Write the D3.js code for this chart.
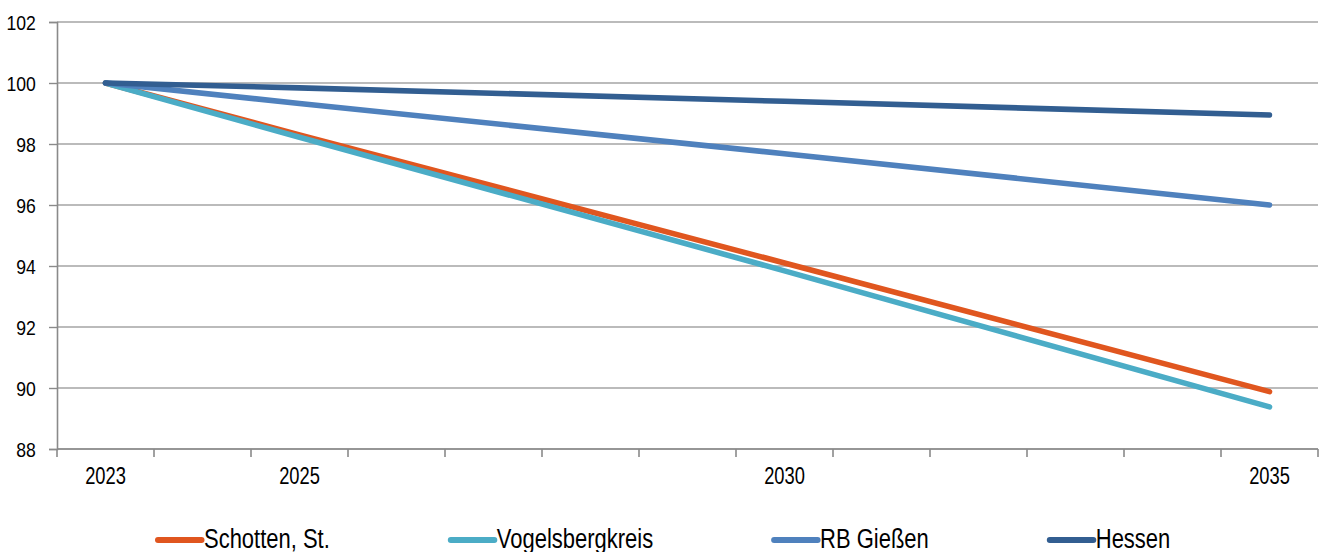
<!DOCTYPE html>
<html><head><meta charset="utf-8">
<script src="https://cdn.jsdelivr.net/npm/d3@7"></script>
<style>
body{margin:0;background:#fff}
svg{display:block;font-family:"Liberation Sans",Arial,sans-serif}
</style>
</head><body>
<svg id="c" width="1331" height="552"></svg>
<script>
// ---- data ----
const years = [2023,2024,2025,2026,2027,2028,2029,2030,2031,2032,2033,2034,2035];
const labeledYears = [2023,2025,2030,2035];
const seriesNames = ["Schotten, St.","Vogelsbergkreis","RB Gießen","Hessen"];
const schotten    = [100,null,98.30,null,null,null,null,94.10,null,null,null,null,89.88];
const vogelsberg  = [100,null,98.22,null,null,null,null,93.84,null,null,null,null,89.38];
const rbGiessen   = [100,null,99.33,null,null,null,null,97.68,null,null,null,null,96.00];
const hessen      = [100,null,99.84,null,null,null,null,99.40,null,null,null,null,98.95];
const yTicks = [88,90,92,94,96,98,100,102];

// ---- styles ----
const seriesValues = [schotten, vogelsberg, rbGiessen, hessen];
const colors = ["#E0561F","#4BACC6","#4F81BD","#325E91"];

const svg = d3.select("#c");
const mLeft = 57, mRight = 1318, mTop = 22, mBottom = 449;

const x = d3.scaleBand().domain(years).range([mLeft, mRight]).padding(0);
const y = d3.scaleLinear().domain([88, 102]).range([mBottom, mTop]);
const cx = d => x(d) + x.bandwidth() / 2;

// gridlines
svg.append("g").selectAll("line").data(yTicks).join("line")
  .attr("x1", mLeft).attr("x2", mRight)
  .attr("y1", d => y(d)).attr("y2", d => y(d))
  .attr("stroke", "#a4a4a4").attr("stroke-width", 1.4);

// y axis
const gy = svg.append("g").attr("transform", `translate(${mLeft},0)`)
  .call(d3.axisLeft(y).tickValues(yTicks).tickSize(8).tickPadding(12).tickFormat(d3.format("d")));
gy.select(".domain").attr("stroke", "#8a8a8a").attr("stroke-width", 1.6);
gy.selectAll(".tick line").attr("stroke", "#8a8a8a").attr("stroke-width", 1.4);
gy.selectAll(".tick text")
  .attr("font-size", 20).attr("fill", "#000")
  .attr("x", -24).attr("dy", "0.39em")
  .attr("transform", "scale(0.88,1)");

// x axis line + tick marks at band boundaries
const bounds = years.map(d => x(d)).concat([x.range()[1]]);
svg.append("line").attr("x1", mLeft).attr("x2", mRight).attr("y1", mBottom).attr("y2", mBottom)
  .attr("stroke", "#8a8a8a").attr("stroke-width", 1.6);
svg.append("g").selectAll("line").data(bounds).join("line")
  .attr("x1", d => d).attr("x2", d => d)
  .attr("y1", mBottom).attr("y2", mBottom + 8)
  .attr("stroke", "#8a8a8a").attr("stroke-width", 1.6);

// x labels
const gx = svg.append("g").attr("transform", `translate(0,${mBottom})`)
  .call(d3.axisBottom(x).tickValues(labeledYears).tickSize(0).tickPadding(18));
gx.select(".domain").remove();
gx.selectAll(".tick text")
  .attr("font-size", 23.5).attr("fill", "#000")
  .attr("transform", "scale(0.78,1)");

// lines
const line = d3.line().x(d => cx(d.year)).y(d => y(d.v));
seriesValues.forEach((vals, i) => {
  const pts = years.map((yr, j) => ({year: yr, v: vals[j]})).filter(d => d.v != null);
  svg.append("path").datum(pts)
    .attr("d", line)
    .attr("fill", "none")
    .attr("stroke", colors[i])
    .attr("stroke-width", 5.6)
    .attr("stroke-linecap", "round")
    .attr("stroke-linejoin", "round");
});

// legend
let lx = 158;
const ly = 540;
seriesNames.forEach((name, i) => {
  svg.append("line").attr("x1", lx).attr("x2", lx + 43.5).attr("y1", ly).attr("y2", ly)
    .attr("stroke", colors[i]).attr("stroke-width", 6).attr("stroke-linecap", "round");
  const t = svg.append("text")
    .attr("transform", `translate(${lx + 46},548) scale(0.82,1)`)
    .attr("font-size", 26.8).attr("fill", "#000")
    .text(name);
  const w = t.node().getComputedTextLength() * 0.82;
  lx = lx + 46 + w + 121;
});
</script>
</body></html>
